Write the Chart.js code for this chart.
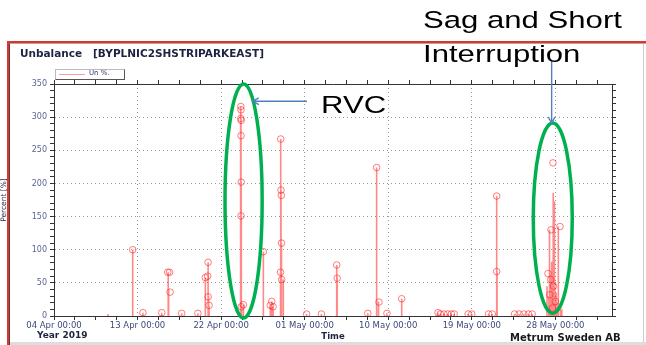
<!DOCTYPE html>
<html>
<head>
<meta charset="utf-8">
<script src="https://cdn.jsdelivr.net/npm/chart.js@4.4.0/dist/chart.umd.min.js"></script>
<style>
  body { margin: 0; background: #fff; }
  #wrap { position: relative; width: 646px; height: 345px; overflow: hidden; background: #fff; }
  #frame { position: absolute; left: 7px; top: 41px; width: 650px; height: 310px; border-top: 2px solid #e8302a; border-left: 2px solid #e8302a; }
  #frameIn { position: absolute; left: 9px; top: 43px; width: 640px; height: 310px; border-top: 1px solid #aaa; border-left: 1px solid #444; }
  #rightEdge { position: absolute; left: 643px; top: 44px; width: 1px; height: 300px; background: #ccc; }
  #bottomBand { position: absolute; left: 10px; top: 342px; width: 640px; height: 3px; background: #ddd; }
  canvas { position: absolute; left: 0; top: 0; }
  .txt { position: absolute; white-space: nowrap; font-family: "DejaVu Sans", sans-serif; color: #1c2340; }
  #title { left: 20px; top: 47px; font-size: 10.5px; font-weight: bold; }
  #legend { position: absolute; left: 55px; top: 69px; width: 68px; height: 9px; border: 1px solid #bbb; border-right-color: #555; border-bottom-color: #555; background: #fff; }
  #legend .ln { position: absolute; left: 3px; top: 4px; width: 26px; height: 1px; background: #ff9a9a; }
  #legend .lt { position: absolute; left: 33px; top: -1px; font-family: "DejaVu Sans", sans-serif; font-size: 7px; color: #2b3566; }
  #year { left: 37px; top: 330px; font-size: 9px; font-weight: bold; }
  #company { left: 510px; top: 332px; font-size: 10px; font-weight: bold; color: #1a1a1a; }
  .big { position: absolute; white-space: nowrap; font-family: "Liberation Sans", Arial, sans-serif; color: #000; font-size: 24.5px; transform-origin: 0 0; transform: scaleX(1.27); line-height: 34px; }
  #rvc { left: 321px; top: 88px; }
  #sag { left: 423px; top: 3px; }
</style>
</head>
<body>
<div id="wrap">
  <div id="frame"></div>
  <div id="frameIn"></div>
  <div id="rightEdge"></div>
  <div id="bottomBand"></div>
  <canvas id="chart" width="646" height="345"></canvas>
  <div class="txt" id="title">Unbalance&nbsp;&nbsp;&nbsp;[BYPLNIC2SHSTRIPARKEAST]</div>
  <div id="legend"><div class="ln"></div><div class="lt">Un %.</div></div>
  <div class="txt" id="year">Year 2019</div>
  <div class="txt" id="company">Metrum Sweden AB</div>
  <div class="big" id="rvc">RVC</div>
  <div class="big" id="sag">Sag and Short<br>Interruption</div>
</div>
<script>
// x values are days after 04 Apr 2019 00:00
var xTickLabels = ["04 Apr 00:00", "13 Apr 00:00", "22 Apr 00:00", "01 May 00:00", "10 May 00:00", "19 May 00:00", "28 May 00:00"]

// vertical spikes of Un %
var spikeDay = [5.82, 8.48, 9.58, 11.6, 12.3, 12.35, 13.75, 15.5, 16.3, 16.6, 16.65, 16.7,
    20.1, 20.12, 20.14, 20.16, 20.18, 20.2, 20.4, 22.55, 23.3, 23.45, 23.6,
    24.4, 24.42, 24.45, 24.5, 24.7, 27.2, 28.8, 30.45, 30.5, 33.8, 34.75, 34.95, 35.86, 37.45,
    41.36, 41.6, 42.0, 42.4, 42.8, 43.1, 44.6, 45.0, 46.8, 47.2, 47.68, 47.72,
    49.6, 50.1, 50.6, 51.1, 51.5,
    53.1, 53.3, 53.37, 53.5, 53.6, 53.77, 53.9, 53.95, 54.1, 54.25, 54.32, 54.55, 54.7]
var spikeValue = [3, 100, 5, 5, 66, 40, 4, 4, 58, 81, 30, 16,
    316, 311, 298, 202, 152, 14, 17, 97, 16, 22, 14,
    66, 267, 190, 110, 55, 3, 3, 77, 60, 4, 224, 22, 4, 26,
    5, 3, 3, 3, 3, 3, 3, 3, 3, 3, 181, 67,
    3, 3, 3, 3, 3,
    45, 30, 130, 60, 82, 186, 173, 50, 35, 20, 135, 15, 10]

// hollow circle markers
var markerDay = [8.48, 9.58, 11.6, 12.25, 12.45, 12.5, 13.75, 15.5, 16.3, 16.6, 16.55, 16.6, 16.7,
    20.12, 20.14, 20.12, 20.16, 20.14, 20.16, 20.14, 20.18, 20.4, 22.55, 23.3, 23.45, 23.6,
    24.42, 24.45, 24.48, 24.5, 24.4, 24.52, 27.2, 28.8, 30.45, 30.5, 33.8, 34.75, 35.0, 35.86, 37.45,
    41.36, 41.6, 42.0, 42.4, 42.8, 43.1, 44.6, 45.0, 46.8, 47.2, 47.68, 47.68,
    49.6, 50.1, 50.6, 51.1, 51.5,
    53.74, 53.53, 54.5, 53.2, 53.5, 53.8, 53.4, 54.0, 53.7]
var markerValue = [100, 5, 5, 66, 66, 36, 4, 4, 58, 81, 60, 29, 16,
    316, 311, 298, 295, 272, 202, 151, 14, 17, 97, 16, 22, 14,
    267, 190, 182, 110, 66, 55, 3, 3, 77, 57, 4, 224, 21, 4, 26,
    5, 3, 3, 3, 3, 3, 3, 3, 3, 3, 181, 67,
    3, 3, 3, 3, 3,
    231, 130, 135, 64, 55, 45, 32, 22, 12]

// green ellipses around the events (day centre, half width in days, low and high value)
var ellipseDay = [20.42, 53.72]
var ellipseHalfDays = [2.0, 2.1]
var ellipseLow = [-3, 4]
var ellipseHigh = [350, 291]

// blue arrows [fromDay, fromValue, toDay, toValue]
var arrows = [[27.25, 324, 21.4, 324], [53.6, 386, 53.6, 291]]

var lineData = []
for (var i = 0; i < spikeDay.length; i++) {
    lineData.push({x: spikeDay[i], y: 0})
    lineData.push({x: spikeDay[i], y: spikeValue[i]})
    lineData.push({x: spikeDay[i], y: null})
}
var markerData = markerDay.map(function (d, i) { return {x: d, y: markerValue[i]} })

function isMult(v, m) {
    return Math.abs(v / m - Math.round(v / m)) < 1e-6
}

var annotations = {
    id: 'annotations',
    afterDatasetsDraw: function (chart) {
        var ctx = chart.ctx
        var xs = chart.scales.x
        var ys = chart.scales.y
        ctx.save()
        ctx.strokeStyle = '#00b050'
        ctx.lineWidth = 3.5
        for (var i = 0; i < ellipseDay.length; i++) {
            var cx = xs.getPixelForValue(ellipseDay[i])
            var rx = xs.getPixelForValue(ellipseDay[i] + ellipseHalfDays[i]) - cx
            var top = ys.getPixelForValue(ellipseHigh[i])
            var bot = ys.getPixelForValue(ellipseLow[i])
            ctx.beginPath()
            ctx.ellipse(cx, (top + bot) / 2, rx, (bot - top) / 2, 0, 0, Math.PI * 2)
            ctx.stroke()
        }
        ctx.strokeStyle = '#4f81bd'
        ctx.lineWidth = 1.4
        arrows.forEach(function (a) {
            var x1 = xs.getPixelForValue(a[0]), y1 = ys.getPixelForValue(a[1])
            var x2 = xs.getPixelForValue(a[2]), y2 = ys.getPixelForValue(a[3])
            var ang = Math.atan2(y2 - y1, x2 - x1)
            ctx.beginPath()
            ctx.moveTo(x1, y1)
            ctx.lineTo(x2, y2)
            ctx.moveTo(x2 - 7 * Math.cos(ang - 0.5), y2 - 7 * Math.sin(ang - 0.5))
            ctx.lineTo(x2, y2)
            ctx.lineTo(x2 - 7 * Math.cos(ang + 0.5), y2 - 7 * Math.sin(ang + 0.5))
            ctx.stroke()
        })
        ctx.restore()
    }
}

var tickFont = {family: 'DejaVu Sans', size: 8.5}

new Chart(document.getElementById('chart'), {
    type: 'line',
    data: {
        datasets: [
            {
                label: 'Un %.',
                data: lineData,
                borderColor: 'rgba(255, 20, 20, 0.5)',
                borderWidth: 1.6,
                pointRadius: 0,
                spanGaps: false,
                tension: 0
            },
            {
                label: 'markers',
                data: markerData,
                showLine: false,
                pointStyle: 'circle',
                pointRadius: 3.3,
                pointBorderWidth: 1,
                pointBorderColor: 'rgba(255, 40, 40, 0.6)',
                pointBackgroundColor: 'rgba(0,0,0,0)'
            }
        ]
    },
    options: {
        responsive: false,
        animation: false,
        devicePixelRatio: 1,
        layout: { padding: {left: 0, top: 84, right: 34, bottom: 0} },
        plugins: {
            legend: { display: false },
            title: { display: false },
            tooltip: { enabled: false }
        },
        scales: {
            x: {
                type: 'linear',
                position: 'bottom',
                min: 0,
                max: 60.1,
                afterFit: function (s) { s.height = 29 },
                border: { color: '#333', width: 1, dash: [1, 3] },
                grid: {
                    color: function (c) { return (c.tick && isMult(c.tick.value, 9) && c.tick.value > 0) ? '#9a9a9a' : 'rgba(0,0,0,0)' },
                    tickColor: '#333',
                    tickBorderDash: [],
                    tickLength: 4
                },
                ticks: {
                    stepSize: 2.25,
                    autoSkip: false,
                    includeBounds: false,
                    maxRotation: 0,
                    padding: 1,
                    font: tickFont,
                    color: '#3b4a7a',
                    callback: function (v) { return isMult(v, 9) ? xTickLabels[Math.round(v / 9)] : '' }
                },
                title: { display: true, text: 'Time', font: {family: 'DejaVu Sans', size: 8.5, weight: 'bold'}, color: '#1c2340', padding: {top: 0, bottom: 3} }
            },
            x2: {
                type: 'linear',
                position: 'top',
                min: 0,
                max: 60.1,
                afterFit: function (s) { s.height = 0 },
                border: { color: '#333', width: 1 },
                grid: { drawOnChartArea: false, tickColor: '#333', tickLength: 4 },
                ticks: { display: false, stepSize: 2.25, includeBounds: false, autoSkip: false }
            },
            y: {
                type: 'linear',
                position: 'left',
                min: 0,
                max: 350,
                afterFit: function (s) { s.width = 54 },
                border: { color: '#333', width: 1, dash: [1, 3] },
                grid: {
                    color: function (c) { return (c.tick && isMult(c.tick.value, 50) && c.tick.value > 0 && c.tick.value < 350) ? '#9a9a9a' : 'rgba(0,0,0,0)' },
                    tickColor: '#333',
                    tickBorderDash: [],
                    tickLength: 4
                },
                ticks: {
                    stepSize: 10,
                    autoSkip: false,
                    padding: 3,
                    font: {family: 'DejaVu Sans', size: 8},
                    color: '#5a6690',
                    callback: function (v) { return isMult(v, 50) ? v : '' }
                },
                title: { display: true, text: 'Percent [%]', font: {family: 'DejaVu Sans', size: 7.5}, color: '#1c2340', padding: {top: 0, bottom: 2} }
            },
            y2: {
                type: 'linear',
                position: 'right',
                min: 0,
                max: 350,
                afterFit: function (s) { s.width = 0 },
                border: { color: '#333', width: 1 },
                grid: { drawOnChartArea: false, tickColor: '#333', tickLength: 4 },
                ticks: { display: false, stepSize: 10, autoSkip: false }
            }
        }
    },
    plugins: [annotations]
});
</script>
</body>
</html>
